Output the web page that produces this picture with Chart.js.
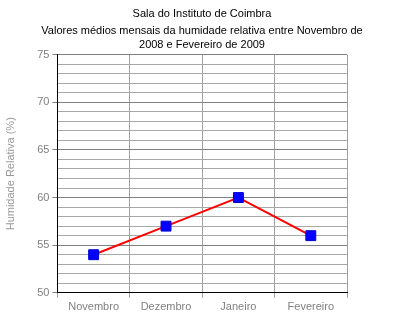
<!DOCTYPE html>
<html>
<head>
<meta charset="utf-8">
<script src="https://cdn.jsdelivr.net/npm/chart.js@4"></script>
<style>
  html, body { margin: 0; padding: 0; background: #fff; }
  #wrap { width: 400px; height: 318px; }
</style>
</head>
<body>
<div id="wrap"><canvas id="chartHumidade"></canvas></div>
<script>
// dados
const meses = ["Novembro", "Dezembro", "Janeiro", "Fevereiro"];
const humidade = [54, 57, 60, 56];
const eixoY = { min: 50, max: 75, passo: 1, rotulo: 5 };

Chart.defaults.font.family = "'Liberation Sans', Arial, sans-serif";
Chart.defaults.font.size = 11;

const chartHumidade = new Chart(document.getElementById("chartHumidade"), {
  type: "line",
  data: {
    labels: meses,
    datasets: [{
      data: humidade,
      borderColor: "#ff0000",
      borderWidth: 2,
      backgroundColor: "#0000ff",
      pointStyle: "rect",
      pointRadius: 7,
      pointBorderColor: "#0000cc",
      pointBorderWidth: 1,
      tension: 0
    }]
  },
  options: {
    responsive: true,
    maintainAspectRatio: false,
    animation: false,
    layout: { padding: { left: 4, right: 0, top: 7, bottom: 1 } },
    plugins: {
      legend: { display: false },
      tooltip: { enabled: false },
      title: {
        display: true,
        text: "Sala do Instituto de Coimbra",
        color: "#000",
        font: { size: 11, weight: "normal" },
        padding: { top: 0, bottom: 4 }
      },
      subtitle: {
        display: true,
        text: ["Valores médios mensais da humidade relativa entre Novembro de", "2008 e Fevereiro de 2009"],
        color: "#000",
        font: { size: 11, weight: "normal", lineHeight: 1.25 },
        padding: { top: 0, bottom: 3 }
      }
    },
    scales: {
      x: {
        offset: true,
        grid: {
          offset: true,
          color: "#a0a0a0",
          tickLength: 5,
          tickColor: "#a0a0a0"
        },
        border: { color: "#000" },
        ticks: { color: "#808080", padding: 3 }
      },
      y: {
        min: eixoY.min,
        max: eixoY.max,
        grid: {
          color: ctx => (ctx.tick && ctx.tick.value % eixoY.rotulo === 0) ? "#808080" : "#a8a8a8",
          tickLength: 5,
          tickColor: ctx => (ctx.tick && ctx.tick.value % eixoY.rotulo === 0) ? "#808080" : "rgba(0,0,0,0)"
        },
        border: { color: "#000" },
        ticks: {
          stepSize: eixoY.passo,
          autoSkip: false,
          color: "#808080",
          padding: 3,
          callback: v => (v % eixoY.rotulo === 0 ? v : "")
        },
        title: {
          display: true,
          text: "Humidade Relativa (%)",
          color: "#999999",
          font: { size: 11 },
          padding: { top: 0, bottom: 17 }
        }
      },
      // eixo vazio à direita só para reservar a margem
      y2: {
        position: "right",
        min: eixoY.min,
        max: eixoY.max,
        grid: { display: false },
        border: { display: false },
        ticks: { display: false },
        afterFit: s => { s.width = 53; }
      }
    }
  }
});
</script>
</body>
</html>
